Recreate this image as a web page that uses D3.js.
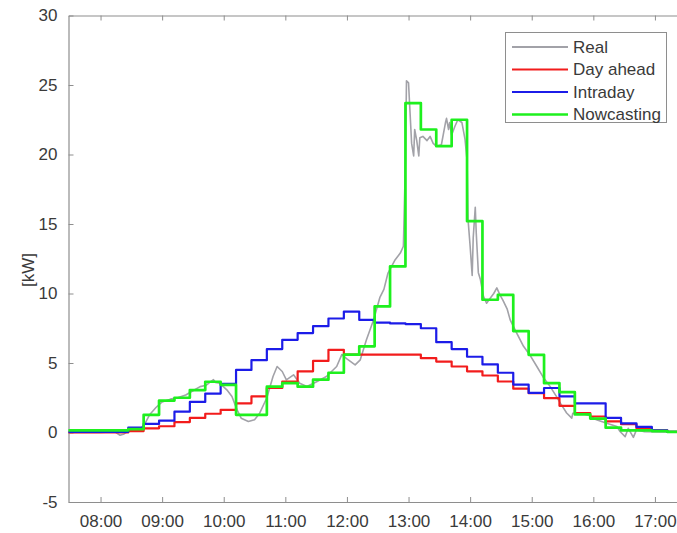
<!DOCTYPE html>
<html>
<head>
<meta charset="utf-8">
<script src="https://cdn.jsdelivr.net/npm/d3@7"></script>
<style>
  html, body { margin: 0; padding: 0; background: #fff; }
  svg { display: block; }
  text { font-family: "Liberation Sans", Arial, Helvetica, sans-serif; }
</style>
</head>
<body>
<svg id="chart" width="677" height="533"></svg>
<script>
// 15-minute forecast blocks (start time of each block)
const slotTimes = ["07:12","07:27","07:42","07:57","08:12","08:27","08:42","08:57","09:12","09:27",
  "09:42","09:57","10:12","10:27","10:42","10:57","11:12","11:27","11:42","11:57",
  "12:12","12:27","12:42","12:57","13:12","13:27","13:42","13:57","14:12","14:27",
  "14:42","14:57","15:12","15:27","15:42","15:57","16:12","16:27","16:42","16:57",
  "17:12","17:27"];
const slotEnd = "17:42";

// Forecasts [kW], one value per block
const dayAhead = [0,0,0,0,0,0.1,0.3,0.45,0.75,1.05,
  1.35,1.63,2.1,2.6,3.2,3.67,4.4,5.15,5.95,5.6,
  5.6,5.6,5.6,5.6,5.35,5.1,4.75,4.4,4.1,3.67,
  3.15,2.83,2.47,1.92,1.4,1.15,0.8,0.6,0.3,0.15,
  0.05,0.05];
const intraday = [0.05,0.05,0.05,0.05,0.05,0.35,0.62,0.85,1.5,2.2,
  2.8,3.5,4.5,5.2,6.0,6.67,7.15,7.65,8.2,8.7,
  8.1,7.9,7.85,7.8,7.5,6.5,6.0,5.45,4.9,4.3,
  3.45,2.85,3.2,2.6,2.1,2.1,1.05,0.65,0.4,0.15,
  0.05,0.05];
const nowcasting = [0.15,0.15,0.15,0.15,0.15,0.25,1.27,2.3,2.5,3.05,
  3.65,3.43,1.27,1.27,3.3,3.55,3.3,3.8,4.3,5.6,
  6.2,9.07,11.95,23.7,21.8,20.6,22.5,15.2,9.55,9.9,
  7.3,5.59,3.55,2.9,1.3,1.0,0.35,0.15,0.15,0.1,
  0.05,0.05];

// Measured power [kW]
const realTimes = ["07:20","08:00","08:14","08:19","08:23","08:27","08:38","08:43","08:48","08:54",
  "09:00","09:08","09:15","09:23","09:30","09:37","09:43","09:48","09:50","09:52",
  "09:56","10:03","10:08","10:13","10:17","10:24","10:30","10:35","10:42","10:48",
  "10:52","10:57","11:01","11:08","11:14","11:21","11:31","11:40","11:50","11:55",
  "12:00","12:08","12:13","12:19","12:26","12:32","12:36","12:40","12:47","12:52",
  "12:55","12:57","12:58","13:00","13:01","13:03","13:05","13:06","13:08","13:10",
  "13:11","13:14","13:18","13:21","13:24","13:27","13:32","13:36","13:37","13:39",
  "13:40","13:42","13:45","13:48","13:52","13:55","13:57","13:58","14:00","14:02",
  "14:03","14:05","14:06","14:08","14:10","14:13","14:16","14:19","14:23","14:26",
  "14:29","14:32","14:36","14:39","14:45","14:52","14:58","15:05","15:11","15:18",
  "15:24","15:28","15:34","15:39","15:40","15:50","15:57","16:03","16:13","16:23",
  "16:26","16:31","16:34","16:39","16:42","16:50","17:40"];
const realValues = [0,0,0.05,-0.2,-0.1,0.1,0.2,0.6,1.3,1.8,
  2.2,2.4,2.5,2.7,3.0,3.3,3.4,3.7,3.8,3.6,
  3.55,3.07,2.59,1.63,1.03,0.79,0.91,1.39,2.5,4.03,
  4.75,4.39,3.79,4.15,3.55,3.31,3.67,4.03,4.75,5.6,
  5.3,4.87,5.23,6.67,8.11,9.7,10.3,11.47,12.43,12.91,
  13.4,19.6,25.3,25.15,23.7,20.8,19.9,21.8,21.0,19.9,
  21.2,21.3,21.0,21.3,20.8,20.6,20.7,22.3,22.6,21.8,
  22.3,21.4,22.0,22.5,22.3,21.1,19.6,15.3,13.4,11.3,
  14.0,16.2,14.3,11.5,11.0,9.8,9.3,9.6,10.0,10.4,
  9.9,9.5,8.9,8.1,7.2,6.2,5.6,4.75,4.0,3.3,
  2.6,2.1,1.4,1.03,1.39,1.35,1.2,0.91,0.67,0.43,
  0.07,-0.3,0.3,-0.35,0.19,0.05,0];

const xTickLabels = ["08:00","09:00","10:00","11:00","12:00","13:00","14:00","15:00","16:00","17:00"];
const yTicks = [-5, 0, 5, 10, 15, 20, 25, 30];
const seriesNames = ["Real", "Day ahead", "Intraday", "Nowcasting"];
const seriesColors = ["#a2a2a8", "#f21c1c", "#1c1ce8", "#1ef01e"];
const seriesWidths = [1.6, 2.2, 2.2, 2.7];

const toMin = s => { const [h, m] = s.split(":").map(Number); return h * 60 + m; };

const svg = d3.select("#chart");
const plotL = 68.5, plotT = 15.5, plotB = 502, plotR = 684.5;

// time axis in minutes since midnight
const x = d3.scaleLinear().domain([448.8, 1048.8]).range([plotL, plotR]);
const y = d3.scaleLinear().domain([-5, 30]).range([plotB, plotT]);

svg.append("defs").append("clipPath").attr("id", "plotClip")
  .append("rect").attr("x", plotL).attr("y", plotT)
  .attr("width", plotR - plotL).attr("height", plotB - plotT);

const axisColor = "#8e8e8e";
const labelColor = "#3a3a3a";

// bottom axis
const gx = svg.append("g").attr("transform", `translate(0,${plotB})`)
  .call(d3.axisBottom(x)
    .tickValues(xTickLabels.map(toMin))
    .tickFormat((d, i) => xTickLabels[i])
    .tickSizeInner(-5).tickSizeOuter(0).tickPadding(13));
// top axis (ticks only)
const gxt = svg.append("g").attr("transform", `translate(0,${plotT})`)
  .call(d3.axisTop(x)
    .tickValues(xTickLabels.map(toMin))
    .tickFormat("")
    .tickSizeInner(-5).tickSizeOuter(0));
// left axis
const gy = svg.append("g").attr("transform", `translate(${plotL},0)`)
  .call(d3.axisLeft(y)
    .tickValues(yTicks)
    .tickFormat(d => String(d))
    .tickSizeInner(-5).tickSizeOuter(0).tickPadding(11));

[gx, gxt, gy].forEach(g => {
  g.select(".domain").attr("stroke", axisColor).attr("stroke-width", 1.2);
  g.selectAll(".tick line").attr("stroke", axisColor).attr("stroke-width", 1);
  g.selectAll("text").attr("fill", labelColor).style("font-size", "17px")
    .style("font-family", '"Liberation Sans", Arial, sans-serif');
});

// y label
svg.append("text")
  .attr("transform", `translate(28,270) rotate(-90)`)
  .attr("text-anchor", "middle")
  .attr("dy", "0.35em")
  .attr("fill", labelColor)
  .style("font-size", "17px")
  .text("[kW]");

// series
const plot = svg.append("g").attr("clip-path", "url(#plotClip)");

const realPts = realTimes.map((t, i) => ({ t: toMin(t), v: realValues[i] }));
const stepPts = vals => slotTimes.map((t, i) => ({ t: toMin(t), v: vals[i] }))
  .concat([{ t: toMin(slotEnd), v: vals[vals.length - 1] }]);

const lineReal = d3.line().x(d => x(d.t)).y(d => y(d.v));
const lineStep = d3.line().x(d => x(d.t)).y(d => y(d.v)).curve(d3.curveStepAfter);

const seriesData = [
  { pts: realPts, gen: lineReal },
  { pts: stepPts(dayAhead), gen: lineStep },
  { pts: stepPts(intraday), gen: lineStep },
  { pts: stepPts(nowcasting), gen: lineStep }
];

seriesData.forEach((s, i) => {
  plot.append("path")
    .attr("d", s.gen(s.pts))
    .attr("fill", "none")
    .attr("stroke", seriesColors[i])
    .attr("stroke-width", seriesWidths[i])
    .attr("stroke-linejoin", "round");
});

// legend
const lg = svg.append("g");
lg.append("rect")
  .attr("x", 505.5).attr("y", 32.5).attr("width", 161).attr("height", 90)
  .attr("fill", "#fff").attr("stroke", axisColor).attr("stroke-width", 1);
seriesNames.forEach((name, i) => {
  const ly = 47 + i * 22.5;
  lg.append("line")
    .attr("x1", 512).attr("x2", 568).attr("y1", ly).attr("y2", ly)
    .attr("stroke", seriesColors[i]).attr("stroke-width", Math.max(seriesWidths[i], 2));
  lg.append("text")
    .attr("x", 573).attr("y", ly).attr("dy", "0.35em")
    .attr("fill", labelColor).style("font-size", "17px")
    .text(name);
});
</script>
</body>
</html>
